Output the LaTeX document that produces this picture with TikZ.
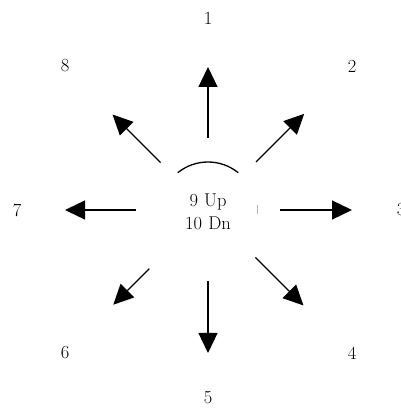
\documentclass[tikz,border=0pt]{standalone}
\usepackage{tikz}
\usetikzlibrary{arrows.meta, calc}

\tikzset{
  dirarrow/.style={line width=1.3pt, -{Triangle[length=20pt, width=19pt]}},
  dirlabel/.style={font=\fontsize{18.5}{22}\selectfont, inner sep=0pt},
}

\begin{document}
\begin{tikzpicture}[x=1pt, y=1pt]
\useasboundingbox (0,0) rectangle (401,408);
% centre
\node[dirlabel, align=center, text width=80pt] (hub) at (208,196)
  {9 Up\\[1pt]10 Dn};
% direction labels
\node[dirlabel] (n1) at (208,390) {1};
\node[dirlabel] (n2) at (352,342) {2};
\node[dirlabel] (n3) at (401,198) {3};
\node[dirlabel] (n4) at (352,55) {4};
\node[dirlabel] (n5) at (208,10) {5};
\node[dirlabel] (n6) at (65,55) {6};
\node[dirlabel] (n7) at (17,198) {7};
\node[dirlabel] (n8) at (65,342) {8};
% tails and tips
\coordinate (c) at (208,198);
\coordinate (t1) at ($(c)+(90:72)$);
\coordinate (h1) at ($(c)+(90:143)$);
\coordinate (t2) at ($(c)+(45:68)$);
\coordinate (h2) at ($(c)+(45:136)$);
\coordinate (t3) at ($(c)+(0:72)$);
\coordinate (h3) at ($(c)+(0:144)$);
\coordinate (t4) at ($(c)+(-45:67)$);
\coordinate (h4) at ($(c)+(-45:135)$);
\coordinate (t5) at ($(c)+(-90:71)$);
\coordinate (h5) at ($(c)+(-90:143)$);
\coordinate (t6) at ($(c)+(-135:83)$);
\coordinate (h6) at ($(c)+(-135:134)$);
\coordinate (t7) at ($(c)+(180:72)$);
\coordinate (h7) at ($(c)+(180:143)$);
\coordinate (t8) at ($(c)+(135:67)$);
\coordinate (h8) at ($(c)+(135:135)$);
\draw[dirarrow] (t1) -- (h1);
\draw[dirarrow] (t2) -- (h2);
\draw[dirarrow] (t3) -- (h3);
\draw[dirarrow] (t4) -- (h4);
\draw[dirarrow] (t5) -- (h5);
\draw[dirarrow] (t6) -- (h6);
\draw[dirarrow] (t7) -- (h7);
\draw[dirarrow] (t8) -- (h8);
% arc over the centre and the small tick
\draw[line width=1.3pt] ($(c)+(51:48)$) arc[start angle=51, end angle=129, radius=48];
\draw[gray!60, line width=0.8pt] ($(c)+(49,5)$) -- ($(c)+(49,-4)$);
\end{tikzpicture}
\end{document}
